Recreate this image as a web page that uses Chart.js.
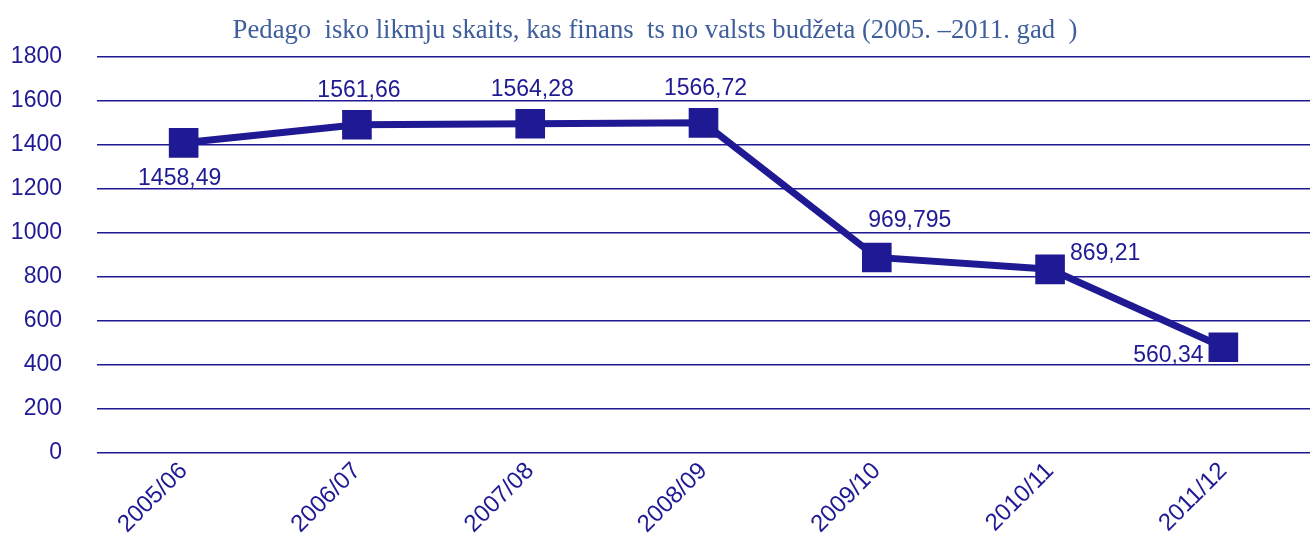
<!DOCTYPE html>
<html lang="lv">
<head>
  <meta charset="UTF-8">
  <title>Pedagogisko likmju skaits</title>
  <script src="https://cdn.jsdelivr.net/npm/chart.js"></script>
  <style>
    body { margin: 0; background: #fff; }
    #wrap { width: 1310px; height: 540px; }
  </style>
</head>
<body>
  <div id="wrap">
    <canvas id="chart" width="1310" height="540"></canvas>
  </div>

  <script>
    const titleText = 'Pedago  isko likmju skaits, kas finans  ts no valsts budžeta (2005. –2011. gad  )';
    const years = ['2005/06', '2006/07', '2007/08', '2008/09', '2009/10', '2010/11', '2011/12'];
    // values as plotted
    const plotted = [1410, 1492, 1497, 1501, 889, 835, 481];
    // the printed labels next to each point
    const pointLabels = ['1458,49', '1561,66', '1564,28', '1566,72', '969,795', '869,21', '560,34'];
    const labelSide = ['below', 'above', 'above', 'above', 'aboveRight', 'right', 'left'];

    const navy = '#1f1a94';
    const sans = '"Liberation Sans", Arial, sans-serif';

    // draw the value labels next to the markers
    const valueLabels = {
      id: 'valueLabels',
      afterDatasetsDraw(chart) {
        const c = chart.ctx;
        const pts = chart.getDatasetMeta(0).data;
        c.save();
        c.font = '23px ' + sans;
        c.fillStyle = navy;
        c.textBaseline = 'middle';
        c.textAlign = 'center';
        pts.forEach((p, i) => {
          let dx = 0, dy = 0;
          switch (labelSide[i]) {
            case 'below': dx = -4; dy = 36; break;
            case 'above': dx = 2; dy = -34; break;
            case 'aboveRight': dx = 33; dy = -37; break;
            case 'right': dx = 55; dy = -16; break;
            case 'left': dx = -55; dy = 8; break;
          }
          c.fillText(pointLabels[i], p.x + dx, p.y + dy);
        });
        c.restore();
      }
    };

    new Chart(document.getElementById('chart'), {
      type: 'line',
      data: {
        labels: years,
        datasets: [{
          data: plotted,
          borderColor: navy,
          backgroundColor: navy,
          borderWidth: 7,
          pointStyle: 'rect',
          pointRadius: 16,
          pointHoverRadius: 16,
          tension: 0
        }]
      },
      options: {
        responsive: false,
        animation: false,
        layout: { autoPadding: false, padding: 0 },
        plugins: {
          legend: { display: false },
          tooltip: { enabled: false },
          title: {
            display: true,
            text: titleText,
            color: '#3f5e9c',
            font: { family: '"Liberation Serif", "Times New Roman", serif', size: 26.7, weight: 'normal' },
            padding: { top: 15, bottom: 10 }
          }
        },
        scales: {
          x: {
            offset: true,
            grid: { display: false, drawTicks: false },
            border: { display: false },
            ticks: {
              color: navy,
              font: { family: sans, size: 24 },
              minRotation: 45,
              maxRotation: 45,
              padding: 4
            },
            afterFit(scale) {
              scale.paddingLeft = 0;
              scale.paddingRight = 0;
              scale.height = 87;
            }
          },
          y: {
            min: 0,
            max: 1800,
            grid: { color: navy, lineWidth: 1.5, drawTicks: false },
            border: { display: false },
            ticks: {
              stepSize: 200,
              color: navy,
              font: { family: sans, size: 23 },
              padding: 35,
              callback: v => String(v)
            },
            afterFit(scale) {
              scale.width = 97;
            }
          }
        }
      },
      plugins: [valueLabels]
    });
  </script>
</body>
</html>
